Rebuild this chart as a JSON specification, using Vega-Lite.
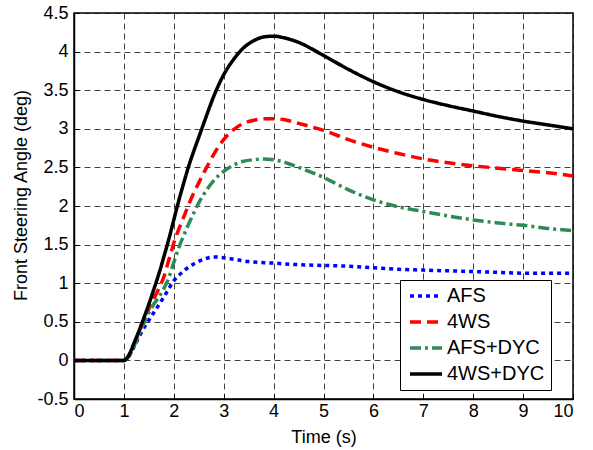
{
  "$schema": "https://vega.github.io/schema/vega-lite/v6.json",
  "autosize": "none",
  "width": 499,
  "height": 386,
  "padding": {"left": 74, "top": 13, "right": 20, "bottom": 51},
  "background": "white",
  "config": {
    "font": "Liberation Sans",
    "view": {"stroke": "black", "strokeWidth": 1.5},
    "axis": {
      "labelFont": "Liberation Sans",
      "titleFont": "Liberation Sans",
      "labelFontSize": 18,
      "titleFontSize": 18,
      "titleFontWeight": "normal",
      "labelColor": "black",
      "titleColor": "black",
      "domainColor": "black",
      "domainWidth": 1.5,
      "tickColor": "black",
      "tickSize": -5,
      "grid": true,
      "gridColor": "#111",
      "gridOpacity": 0.8,
      "gridDash": [6, 4],
      "gridWidth": 1
    }
  },
  "data": {
    "values": [
      {"t": 0, "v": 0, "s": "AFS"}, {"t": 1.0, "v": 0, "s": "AFS"}, {"t": 1.1, "v": 0.05, "s": "AFS"}, {"t": 1.2, "v": 0.17, "s": "AFS"}, {"t": 1.3, "v": 0.3, "s": "AFS"}, {"t": 1.4, "v": 0.42, "s": "AFS"}, {"t": 1.5, "v": 0.52, "s": "AFS"}, {"t": 1.6, "v": 0.62, "s": "AFS"}, {"t": 1.7, "v": 0.72, "s": "AFS"}, {"t": 1.8, "v": 0.82, "s": "AFS"}, {"t": 1.9, "v": 0.93, "s": "AFS"}, {"t": 2.0, "v": 1.03, "s": "AFS"}, {"t": 2.1, "v": 1.1, "s": "AFS"}, {"t": 2.2, "v": 1.16, "s": "AFS"}, {"t": 2.4, "v": 1.25, "s": "AFS"}, {"t": 2.6, "v": 1.31, "s": "AFS"}, {"t": 2.8, "v": 1.34, "s": "AFS"}, {"t": 3.0, "v": 1.33, "s": "AFS"}, {"t": 3.2, "v": 1.31, "s": "AFS"}, {"t": 3.5, "v": 1.28, "s": "AFS"}, {"t": 4.0, "v": 1.26, "s": "AFS"}, {"t": 4.5, "v": 1.24, "s": "AFS"}, {"t": 5.0, "v": 1.23, "s": "AFS"}, {"t": 5.5, "v": 1.22, "s": "AFS"}, {"t": 6.0, "v": 1.2, "s": "AFS"}, {"t": 6.5, "v": 1.18, "s": "AFS"}, {"t": 7.0, "v": 1.17, "s": "AFS"}, {"t": 7.5, "v": 1.16, "s": "AFS"}, {"t": 8.0, "v": 1.15, "s": "AFS"}, {"t": 8.5, "v": 1.14, "s": "AFS"}, {"t": 9.0, "v": 1.13, "s": "AFS"}, {"t": 9.5, "v": 1.13, "s": "AFS"}, {"t": 10.0, "v": 1.13, "s": "AFS"},

      {"t": 0, "v": 0, "s": "4WS"}, {"t": 1.0, "v": 0, "s": "4WS"}, {"t": 1.1, "v": 0.06, "s": "4WS"}, {"t": 1.2, "v": 0.2, "s": "4WS"}, {"t": 1.3, "v": 0.36, "s": "4WS"}, {"t": 1.4, "v": 0.52, "s": "4WS"}, {"t": 1.5, "v": 0.67, "s": "4WS"}, {"t": 1.6, "v": 0.8, "s": "4WS"}, {"t": 1.7, "v": 0.93, "s": "4WS"}, {"t": 1.8, "v": 1.08, "s": "4WS"}, {"t": 1.9, "v": 1.3, "s": "4WS"}, {"t": 2.0, "v": 1.52, "s": "4WS"}, {"t": 2.1, "v": 1.7, "s": "4WS"}, {"t": 2.2, "v": 1.86, "s": "4WS"}, {"t": 2.3, "v": 2.02, "s": "4WS"}, {"t": 2.4, "v": 2.17, "s": "4WS"}, {"t": 2.5, "v": 2.3, "s": "4WS"}, {"t": 2.6, "v": 2.43, "s": "4WS"}, {"t": 2.7, "v": 2.55, "s": "4WS"}, {"t": 2.8, "v": 2.67, "s": "4WS"}, {"t": 3.0, "v": 2.86, "s": "4WS"}, {"t": 3.2, "v": 2.99, "s": "4WS"}, {"t": 3.4, "v": 3.07, "s": "4WS"}, {"t": 3.6, "v": 3.11, "s": "4WS"}, {"t": 3.8, "v": 3.13, "s": "4WS"}, {"t": 4.0, "v": 3.13, "s": "4WS"}, {"t": 4.2, "v": 3.12, "s": "4WS"}, {"t": 4.5, "v": 3.07, "s": "4WS"}, {"t": 5.0, "v": 2.98, "s": "4WS"}, {"t": 5.5, "v": 2.86, "s": "4WS"}, {"t": 6.0, "v": 2.76, "s": "4WS"}, {"t": 6.5, "v": 2.68, "s": "4WS"}, {"t": 7.0, "v": 2.61, "s": "4WS"}, {"t": 7.5, "v": 2.56, "s": "4WS"}, {"t": 8.0, "v": 2.52, "s": "4WS"}, {"t": 8.5, "v": 2.49, "s": "4WS"}, {"t": 9.0, "v": 2.46, "s": "4WS"}, {"t": 9.5, "v": 2.43, "s": "4WS"}, {"t": 10.0, "v": 2.39, "s": "4WS"},

      {"t": 0, "v": 0, "s": "AFS+DYC"}, {"t": 1.0, "v": 0, "s": "AFS+DYC"}, {"t": 1.1, "v": 0.05, "s": "AFS+DYC"}, {"t": 1.2, "v": 0.18, "s": "AFS+DYC"}, {"t": 1.3, "v": 0.33, "s": "AFS+DYC"}, {"t": 1.4, "v": 0.48, "s": "AFS+DYC"}, {"t": 1.5, "v": 0.62, "s": "AFS+DYC"}, {"t": 1.6, "v": 0.73, "s": "AFS+DYC"}, {"t": 1.7, "v": 0.82, "s": "AFS+DYC"}, {"t": 1.8, "v": 0.93, "s": "AFS+DYC"}, {"t": 1.9, "v": 1.07, "s": "AFS+DYC"}, {"t": 2.0, "v": 1.27, "s": "AFS+DYC"}, {"t": 2.1, "v": 1.46, "s": "AFS+DYC"}, {"t": 2.2, "v": 1.62, "s": "AFS+DYC"}, {"t": 2.3, "v": 1.77, "s": "AFS+DYC"}, {"t": 2.4, "v": 1.91, "s": "AFS+DYC"}, {"t": 2.5, "v": 2.04, "s": "AFS+DYC"}, {"t": 2.6, "v": 2.15, "s": "AFS+DYC"}, {"t": 2.8, "v": 2.33, "s": "AFS+DYC"}, {"t": 3.0, "v": 2.45, "s": "AFS+DYC"}, {"t": 3.2, "v": 2.53, "s": "AFS+DYC"}, {"t": 3.4, "v": 2.58, "s": "AFS+DYC"}, {"t": 3.6, "v": 2.6, "s": "AFS+DYC"}, {"t": 3.8, "v": 2.61, "s": "AFS+DYC"}, {"t": 4.0, "v": 2.6, "s": "AFS+DYC"}, {"t": 4.2, "v": 2.57, "s": "AFS+DYC"}, {"t": 4.5, "v": 2.5, "s": "AFS+DYC"}, {"t": 5.0, "v": 2.37, "s": "AFS+DYC"}, {"t": 5.5, "v": 2.21, "s": "AFS+DYC"}, {"t": 6.0, "v": 2.08, "s": "AFS+DYC"}, {"t": 6.5, "v": 1.99, "s": "AFS+DYC"}, {"t": 7.0, "v": 1.93, "s": "AFS+DYC"}, {"t": 7.5, "v": 1.87, "s": "AFS+DYC"}, {"t": 8.0, "v": 1.82, "s": "AFS+DYC"}, {"t": 8.5, "v": 1.78, "s": "AFS+DYC"}, {"t": 9.0, "v": 1.75, "s": "AFS+DYC"}, {"t": 9.5, "v": 1.71, "s": "AFS+DYC"}, {"t": 10.0, "v": 1.68, "s": "AFS+DYC"},

      {"t": 0, "v": 0, "s": "4WS+DYC"}, {"t": 1.0, "v": 0, "s": "4WS+DYC"}, {"t": 1.1, "v": 0.07, "s": "4WS+DYC"}, {"t": 1.2, "v": 0.22, "s": "4WS+DYC"}, {"t": 1.3, "v": 0.38, "s": "4WS+DYC"}, {"t": 1.4, "v": 0.55, "s": "4WS+DYC"}, {"t": 1.5, "v": 0.73, "s": "4WS+DYC"}, {"t": 1.6, "v": 0.92, "s": "4WS+DYC"}, {"t": 1.7, "v": 1.12, "s": "4WS+DYC"}, {"t": 1.8, "v": 1.34, "s": "4WS+DYC"}, {"t": 1.9, "v": 1.57, "s": "4WS+DYC"}, {"t": 2.0, "v": 1.82, "s": "4WS+DYC"}, {"t": 2.1, "v": 2.07, "s": "4WS+DYC"}, {"t": 2.2, "v": 2.3, "s": "4WS+DYC"}, {"t": 2.3, "v": 2.52, "s": "4WS+DYC"}, {"t": 2.4, "v": 2.71, "s": "4WS+DYC"}, {"t": 2.5, "v": 2.89, "s": "4WS+DYC"}, {"t": 2.6, "v": 3.07, "s": "4WS+DYC"}, {"t": 2.7, "v": 3.25, "s": "4WS+DYC"}, {"t": 2.8, "v": 3.42, "s": "4WS+DYC"}, {"t": 2.9, "v": 3.57, "s": "4WS+DYC"}, {"t": 3.0, "v": 3.7, "s": "4WS+DYC"}, {"t": 3.2, "v": 3.9, "s": "4WS+DYC"}, {"t": 3.4, "v": 4.05, "s": "4WS+DYC"}, {"t": 3.6, "v": 4.14, "s": "4WS+DYC"}, {"t": 3.8, "v": 4.19, "s": "4WS+DYC"}, {"t": 4.0, "v": 4.2, "s": "4WS+DYC"}, {"t": 4.2, "v": 4.18, "s": "4WS+DYC"}, {"t": 4.5, "v": 4.12, "s": "4WS+DYC"}, {"t": 5.0, "v": 3.95, "s": "4WS+DYC"}, {"t": 5.5, "v": 3.77, "s": "4WS+DYC"}, {"t": 6.0, "v": 3.61, "s": "4WS+DYC"}, {"t": 6.5, "v": 3.48, "s": "4WS+DYC"}, {"t": 7.0, "v": 3.38, "s": "4WS+DYC"}, {"t": 7.5, "v": 3.3, "s": "4WS+DYC"}, {"t": 8.0, "v": 3.23, "s": "4WS+DYC"}, {"t": 8.5, "v": 3.16, "s": "4WS+DYC"}, {"t": 9.0, "v": 3.1, "s": "4WS+DYC"}, {"t": 9.5, "v": 3.05, "s": "4WS+DYC"}, {"t": 10.0, "v": 3.0, "s": "4WS+DYC"}
    ]
  },
  "mark": {"type": "line", "strokeWidth": 3.5, "interpolate": "monotone", "clip": true},
  "encoding": {
    "x": {
      "field": "t", "type": "quantitative",
      "scale": {"domain": [0, 10], "nice": false, "zero": false},
      "axis": {"title": "Time (s)", "values": [0,1,2,3,4,5,6,7,8,9,10], "labelPadding": 8, "titleBaseline": "alphabetic", "titleY": 43, "labelExpr": "'' + datum.value"}
    },
    "y": {
      "field": "v", "type": "quantitative",
      "scale": {"domain": [-0.5, 4.5], "nice": false, "zero": false},
      "axis": {"title": "Front Steering Angle (deg)", "values": [-0.5,0,0.5,1,1.5,2,2.5,3,3.5,4,4.5], "labelPadding": 11, "titleBaseline": "alphabetic", "titleAlign": "center", "titleAngle": -90, "titleX": -48, "titleY": 182, "labelExpr": "'' + datum.value"}
    },
    "color": {
      "field": "s", "type": "nominal",
      "scale": {"domain": ["AFS", "4WS", "AFS+DYC", "4WS+DYC"], "range": ["#0000ff", "#ff0000", "#2e8b57", "#000000"]},
      "legend": {
        "title": null, "orient": "none", "legendX": 326, "legendY": 267,
        "strokeColor": "black", "fillColor": "white", "padding": 6,
        "symbolType": "M-2,0H2", "symbolSize": 256, "symbolStrokeWidth": 3.5, "symbolOffset": 10,
        "labelFontSize": 20, "labelFont": "Liberation Sans", "labelColor": "black",
        "rowPadding": 6, "labelOffset": 11, "cornerRadius": 0
      }
    },
    "strokeDash": {
      "field": "s", "type": "nominal",
      "scale": {"domain": ["AFS", "4WS", "AFS+DYC", "4WS+DYC"], "range": [[4, 4], [11, 6], [11, 4, 3, 4], [1, 0]]},
      "legend": {"title": null}
    }
  }
}
